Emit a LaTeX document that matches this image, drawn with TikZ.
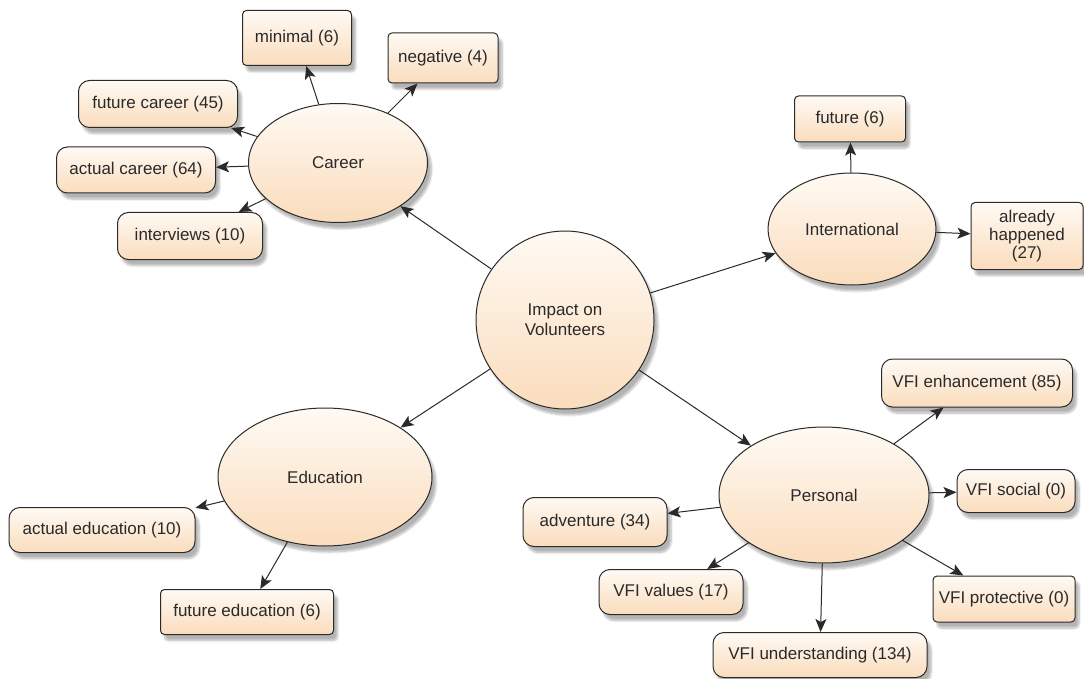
\documentclass[tikz,border=0pt]{standalone}
\usepackage{fontspec}
\setmainfont{Liberation Sans}
\usepackage{tikz}
\usetikzlibrary{positioning, arrows.meta, shapes.geometric, shadows.blur}
\definecolor{myCream}{HTML}{FFFAF4}
\definecolor{myPeach}{HTML}{FADCBC}
\definecolor{myInk}{HTML}{2A2A2A}

\begin{document}
\begin{tikzpicture}[x=1pt, y=-1pt,
  font=\fontsize{17}{20}\selectfont,
  blob/.style={draw=myInk, line width=1pt, inner sep=0pt, text=myInk,
               top color=myCream, bottom color=myPeach,
               blur shadow={shadow xshift=4pt, shadow yshift=-6pt,
                            shadow opacity=30, shadow blur steps=8}},
  topic/.style={blob, ellipse},
  leaf/.style={blob, rounded corners=11pt, align=center},
  tag/.style={blob, rounded corners=4pt, align=center},
  link/.style={draw=myInk, line width=1pt,
               -{Stealth[length=13pt, width=11pt, inset=3pt]}},
]
  \useasboundingbox (0,0) rectangle (1084,679);

  % centre and the four themes
  \node[topic, circle, minimum size=178pt, align=center] (impact) at (565,320)
    {Impact on\\Volunteers};
  \node[topic, minimum width=179pt, minimum height=119pt] (career) at (338,163) {Career};
  \node[topic, minimum width=168pt, minimum height=112pt] (intl) at (852,229) {International};
  \node[topic, minimum width=214pt, minimum height=138pt] (educ) at (325,477) {Education};
  \node[topic, minimum width=210pt, minimum height=136pt] (personal) at (824,495) {Personal};

  % career codes
  \node[tag, minimum width=109pt, minimum height=55pt] (minimal) at (297,38) {minimal (6)};
  \node[tag, minimum width=110pt, minimum height=50pt] (negative) at (443,58) {negative (4)};
  \node[leaf, minimum width=159pt, minimum height=47pt] (futcareer) at (158,104) {future career (45)};
  \node[leaf, minimum width=159pt, minimum height=46pt] (actcareer) at (136,170) {actual career (64)};
  \node[leaf, minimum width=145pt, minimum height=47pt] (interviews) at (190,236) {interviews (10)};

  % international codes
  \node[tag, minimum width=111pt, minimum height=46pt] (future) at (850,119) {future (6)};
  \node[tag, minimum width=112pt, minimum height=67pt] (happened) at (1027,236)
    {already\\[-2pt]happened\\[-2pt](27)};

  % education codes
  \node[leaf, minimum width=186pt, minimum height=45pt] (acteduc) at (102,530) {actual education (10)};
  \node[tag, minimum width=173pt, minimum height=45pt] (futeduc) at (247,612) {future education (6)};

  % personal codes
  \node[leaf, minimum width=144pt, minimum height=49pt] (adventure) at (595,522) {adventure (34)};
  \node[leaf, minimum width=144pt, minimum height=45pt] (values) at (671,592) {VFI values (17)};
  \node[leaf, minimum width=214pt, minimum height=45pt] (understanding) at (820,655) {VFI understanding (134)};
  \node[tag, minimum width=142pt, minimum height=46pt] (protective) at (1004,599) {VFI protective (0)};
  \node[leaf, minimum width=118pt, minimum height=43pt] (social) at (1016,491) {VFI social (0)};
  \node[leaf, minimum width=191pt, minimum height=48pt] (enhancement) at (977,383) {VFI enhancement (85)};

  \foreach \from/\to in {impact/career, impact/intl, impact/educ, impact/personal,
      career/minimal, career/negative, career/futcareer, career/actcareer, career/interviews,
      intl/future, intl/happened, educ/acteduc, educ/futeduc,
      personal/adventure, personal/values, personal/understanding,
      personal/protective, personal/social, personal/enhancement}
    \draw[link] (\from) -- (\to);
\end{tikzpicture}
\end{document}
